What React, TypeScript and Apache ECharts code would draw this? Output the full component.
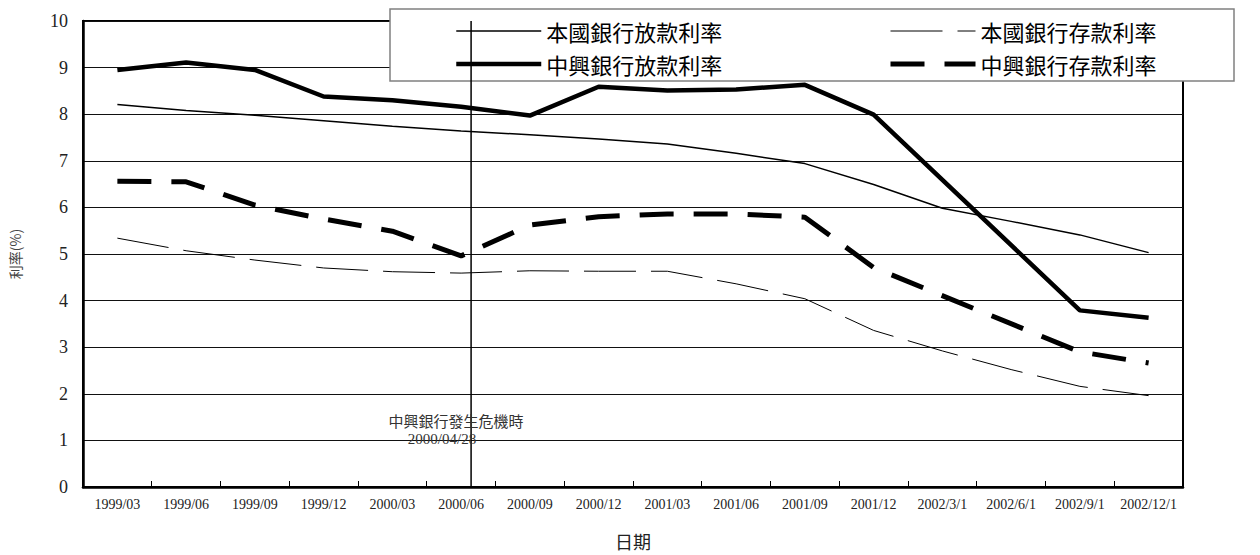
import React, { useEffect, useRef } from "react";
import * as echarts from "echarts";

const categories = [
  "1999/03", "1999/06", "1999/09", "1999/12", "2000/03", "2000/06", "2000/09", "2000/12",
  "2001/03", "2001/06", "2001/09", "2001/12", "2002/3/1", "2002/6/1", "2002/9/1", "2002/12/1",
];
const domesticLoan = [8.21, 8.08, 7.98, 7.86, 7.74, 7.64, 7.56, 7.47, 7.36, 7.16, 6.94, 6.49, 5.98, 5.7, 5.41, 5.03];
const domesticDeposit = [5.34, 5.07, 4.87, 4.7, 4.62, 4.59, 4.64, 4.63, 4.63, 4.36, 4.04, 3.36, 2.92, 2.52, 2.16, 1.96];
const chinatrustLoan = [8.95, 9.11, 8.95, 8.38, 8.3, 8.16, 7.97, 8.59, 8.51, 8.53, 8.63, 7.99, null, null, 3.79, 3.63];
const chinatrustDeposit = [6.56, 6.55, 6.05, 5.75, 5.49, 4.96, 5.62, 5.8, 5.86, 5.86, 5.79, 4.71, null, null, 2.9, 2.66];
const yTicks = { min: 0, max: 10, interval: 1 };
// crisis date 2000/04/28, expressed in category-band units along the x axis
const crisisPos = 5.645;
const crisisLabel = ["中興銀行發生危機時", "2000/04/28"];

const names = ["本國銀行放款利率", "本國銀行存款利率", "中興銀行放款利率", "中興銀行存款利率"];

const SERIF = "'Liberation Serif', 'Noto Sans CJK TC', serif";
const CJK = "'Noto Sans CJK TC', sans-serif";

const styles = [
  { width: 1.5, type: "solid" as any },
  { width: 1, type: [52, 15] as any },
  { width: 4.5, type: "solid" as any },
  { width: 5, type: [34, 20] as any },
];

export default function App() {
  const ref = useRef<HTMLDivElement>(null);
  useEffect(() => {
    if (!ref.current) return;
    const chart = echarts.init(ref.current, null, { renderer: "svg" });
    const legendText = { fontFamily: CJK, fontSize: 22, color: "#000", lineHeight: 22 };
    const hiddenSymbol = { color: "rgba(0,0,0,0)", borderColor: "rgba(0,0,0,0)", borderWidth: 0, opacity: 0 };
    const legendItem = (i: number) => ({
      name: names[i],
      itemStyle: hiddenSymbol,
      lineStyle: { color: "#000", width: styles[i].width, type: styles[i].type, opacity: 1 },
    });
    const legendBase = {
      orient: "vertical", top: 20,
      itemWidth: 85, itemHeight: 14, itemGap: 11, padding: 0,
      textStyle: legendText, selectedMode: false,
      itemStyle: hiddenSymbol,
    };
    chart.setOption({
      animation: false,
      backgroundColor: "#fff",
      grid: {
        left: 79, right: 77, top: 21, bottom: 55,
        show: true, borderColor: "#000", borderWidth: 2, backgroundColor: "transparent",
      },
      legend: [
        { ...legendBase, left: 454, data: [legendItem(0), legendItem(2)] },
        { ...legendBase, left: 888, data: [legendItem(1), legendItem(3)] },
      ],
      xAxis: [
        {
          type: "category", data: categories, boundaryGap: true,
          name: "日期", nameLocation: "middle", nameGap: 45,
          nameTextStyle: { fontFamily: CJK, fontSize: 18, color: "#222" },
          axisLine: { lineStyle: { color: "#000", width: 2.5 } },
          axisTick: { show: true, inside: true, length: 6, lineStyle: { color: "#000", width: 1 } },
          axisLabel: { interval: 0, margin: 10, fontFamily: SERIF, fontSize: 14, color: "#222" },
          splitLine: { show: false },
        },
        { type: "value", min: 0, max: categories.length, show: false },
      ],
      yAxis: {
        type: "value", min: yTicks.min, max: yTicks.max, interval: yTicks.interval,
        name: "利率(%)", nameLocation: "middle", nameRotate: 90, nameGap: 61,
        nameTextStyle: { fontFamily: CJK, fontSize: 14, color: "#444" },
        axisLine: { show: true, lineStyle: { color: "#000", width: 2.5 } },
        axisTick: { show: false },
        axisLabel: { margin: 15, fontFamily: SERIF, fontSize: 18, color: "#222" },
        splitLine: { show: true, lineStyle: { color: "#111", width: 1 } },
      },
      graphic: [
        {
          type: "rect", z: 3,
          shape: { x: 390, y: 9, width: 844, height: 72 },
          style: { fill: "#fff", stroke: "#808080", lineWidth: 1.5 },
        },
        {
          type: "text", z: 6, x: 456, y: 420,
          style: { text: crisisLabel[0], fontFamily: CJK, fontSize: 15, fill: "#333", align: "center", verticalAlign: "middle" },
        },
        {
          type: "text", z: 6, x: 442, y: 439,
          style: { text: crisisLabel[1], fontFamily: SERIF, fontSize: 15, fill: "#333", align: "center", verticalAlign: "middle" },
        },
      ],
      series: [
        {
          name: names[0], type: "line", data: domesticLoan, symbol: "none", z: 2,
          lineStyle: { color: "#000", ...styles[0] }, itemStyle: { color: "#000" },
        },
        {
          name: names[1], type: "line", data: domesticDeposit, symbol: "none", z: 2,
          lineStyle: { color: "#000", ...styles[1] }, itemStyle: { color: "#000" },
        },
        {
          name: names[2], type: "line", data: chinatrustLoan, symbol: "none", connectNulls: true, z: 2,
          lineStyle: { color: "#000", ...styles[2] }, itemStyle: { color: "#000" },
        },
        {
          name: names[3], type: "line", data: chinatrustDeposit, symbol: "none", connectNulls: true, z: 2,
          lineStyle: { color: "#000", ...styles[3] }, itemStyle: { color: "#000" },
        },
        {
          name: "crisis", type: "line", xAxisIndex: 1, silent: true, symbol: "none", z: 5,
          data: [[crisisPos, yTicks.min], [crisisPos, yTicks.max]],
          lineStyle: { color: "#000", width: 1.5 },
        },
      ],
    });
    return () => chart.dispose();
  }, []);
  return (
    <div
      ref={ref}
      style={{ position: "absolute", left: 0, top: 0, width: 1260, height: 555 }}
    />
  );
}
